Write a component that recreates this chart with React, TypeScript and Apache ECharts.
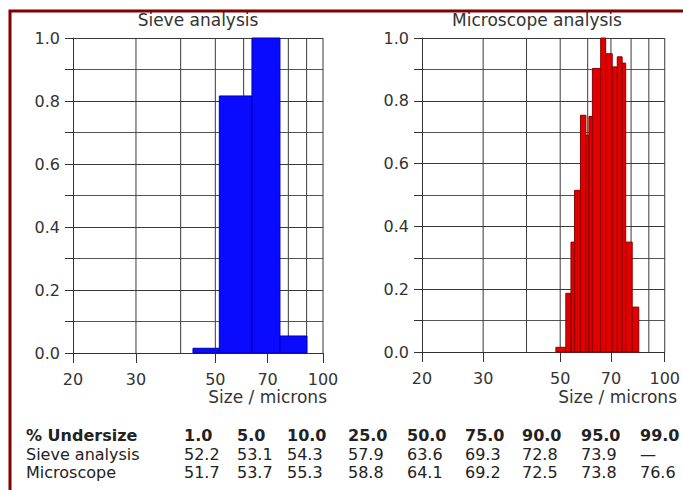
import React, { useEffect, useRef } from 'react';
import * as echarts from 'echarts';

// ---- data ----
const xTickValues = [20, 30, 50, 70, 100];
const xGridValues = [30, 40, 50, 60, 70, 80, 90, 100];

// Sieve analysis: bin edges (microns) and relative heights
const sieveEdges = [43.3, 51.3, 63.3, 75.8, 90.2];
const sieveHeights = [0.015, 0.816, 1.0, 0.054];

// Microscope analysis: bin edges (microns) and relative heights
const microEdges = [48.6, 51.9, 53.7, 55.0, 57.2, 59.3, 60.5, 61.9, 65.4, 67.6, 70.6, 73.0, 75.4, 77.2, 80.6, 84.2];
const microHeights = [0.015, 0.187, 0.35, 0.515, 0.754, 0.69, 0.75, 0.903, 1.0, 0.95, 0.908, 0.94, 0.92, 0.35, 0.143];

// Table
const undersizeHeader = '% Undersize';
const undersizePct = ['1.0', '5.0', '10.0', '25.0', '50.0', '75.0', '90.0', '95.0', '99.0'];
const sieveRowLabel = 'Sieve analysis';
const sieveSizes = ['52.2', '53.1', '54.3', '57.9', '63.6', '69.3', '72.8', '73.9', '—'];
const microRowLabel = 'Microscope';
const microSizes = ['51.7', '53.7', '55.3', '58.8', '64.1', '69.2', '72.5', '73.8', '76.6'];

const titles = ['Sieve analysis', 'Microscope analysis'];
const xAxisName = 'Size / microns';

const FONT = 'DejaVu Sans';

function bins(edges: number[], heights: number[]) {
  return heights.map((h, i) => [edges[i], edges[i + 1], h]);
}

const App = () => {
  const ref = useRef<HTMLDivElement>(null);
  useEffect(() => {
    const chart = echarts.init(ref.current!, null, { renderer: 'svg' });

    const gridLineSeries = (idx: number) => ({
      type: 'custom',
      xAxisIndex: idx,
      yAxisIndex: idx,
      silent: true,
      z: 1,
      data: xGridValues.map((v) => [v, 0]),
      encode: { x: 0, y: 1 },
      renderItem: (params: any, api: any) => {
        const v = api.value(0);
        const p0 = api.coord([v, 0]);
        const p1 = api.coord([v, 1]);
        return {
          type: 'line',
          shape: { x1: p0[0], y1: p0[1], x2: p1[0], y2: p1[1] },
          style: { stroke: '#3a3a3a', lineWidth: 1 },
        };
      },
    });

    const histSeries = (idx: number, data: number[][], fill: string, stroke: string) => ({
      type: 'custom',
      xAxisIndex: idx,
      yAxisIndex: idx,
      silent: true,
      z: 3,
      data,
      encode: { x: [0, 1], y: 2 },
      renderItem: (params: any, api: any) => {
        const x0 = api.value(0);
        const x1 = api.value(1);
        const h = api.value(2);
        const a = api.coord([x0, h]);
        const b = api.coord([x1, 0]);
        return {
          type: 'rect',
          shape: { x: a[0], y: a[1], width: b[0] - a[0], height: b[1] - a[1] },
          style: { fill, stroke, lineWidth: 1 },
        };
      },
    });

    const yAxis = (idx: number) => ({
      type: 'value',
      gridIndex: idx,
      min: 0,
      max: 1,
      interval: 0.2,
      axisLine: { show: true, lineStyle: { color: '#333', width: 1 } },
      axisTick: { show: true, length: 8, lineStyle: { color: '#333' } },
      minorTick: { show: true, splitNumber: 2, length: 8, lineStyle: { color: '#333' } },
      splitLine: { show: true, lineStyle: { color: '#3a3a3a', width: 1 } },
      minorSplitLine: { show: true, lineStyle: { color: '#555', width: 1 } },
      axisLabel: {
        formatter: (v: number) => v.toFixed(1),
        margin: 13,
        fontFamily: FONT,
        fontSize: 16,
        color: '#333',
      },
    });

    const xAxis = (idx: number) => ({
      type: 'log',
      logBase: 10,
      gridIndex: idx,
      min: 20,
      max: 100,
      axisLine: { show: true, lineStyle: { color: '#333', width: 1 } },
      axisTick: { show: true, length: 10, customValues: xTickValues, lineStyle: { color: '#333' } },
      splitLine: { show: false },
      axisLabel: {
        customValues: xTickValues,
        margin: 18,
        fontFamily: FONT,
        fontSize: 16,
        color: '#333',
        formatter: (v: number) => String(Math.round(v)),
      },
    });

    const colX = [184, 237, 287, 348, 407, 465, 522, 581, 640];
    const rowY = [435, 454, 472];
    const tableTexts: any[] = [];
    const addRow = (label: string, vals: string[], y: number, bold: boolean) => {
      const font = `${bold ? 'bold ' : ''}16px "${FONT}"`;
      tableTexts.push({
        type: 'text',
        x: 26,
        y,
        style: { text: label, fill: '#222', font, verticalAlign: 'middle', align: 'left' },
      });
      vals.forEach((v, i) => {
        tableTexts.push({
          type: 'text',
          x: colX[i],
          y,
          style: { text: v, fill: '#222', font, verticalAlign: 'middle', align: 'left' },
        });
      });
    };
    addRow(undersizeHeader, undersizePct, rowY[0], true);
    addRow(sieveRowLabel, sieveSizes, rowY[1], false);
    addRow(microRowLabel, microSizes, rowY[2], false);

    const option: any = {
      animation: false,
      backgroundColor: '#ffffff',
      grid: [
        { left: 73, top: 38, width: 250, height: 315 },
        { left: 422, top: 38, width: 244, height: 314 },
      ],
      xAxis: [xAxis(0), xAxis(1)],
      yAxis: [yAxis(0), yAxis(1)],
      series: [
        gridLineSeries(0),
        histSeries(0, bins(sieveEdges, sieveHeights), '#0a0aff', '#0000b0'),
        gridLineSeries(1),
        histSeries(1, bins(microEdges, microHeights), '#e00000', '#8b0000'),
      ],
      graphic: [
        {
          type: 'rect',
          z: 100,
          silent: true,
          shape: { x: 10, y: 11, width: 700, height: 500 },
          style: { fill: 'none', stroke: '#800000', lineWidth: 3 },
        },
        {
          type: 'text',
          x: 198,
          y: 20,
          style: { text: titles[0], fill: '#333', font: `17px "${FONT}"`, align: 'center', verticalAlign: 'middle' },
        },
        {
          type: 'text',
          x: 537,
          y: 20,
          style: { text: titles[1], fill: '#333', font: `17px "${FONT}"`, align: 'center', verticalAlign: 'middle' },
        },
        {
          type: 'text',
          x: 327,
          y: 397,
          style: { text: xAxisName, fill: '#333', font: `17px "${FONT}"`, align: 'right', verticalAlign: 'middle' },
        },
        {
          type: 'text',
          x: 677,
          y: 397,
          style: { text: xAxisName, fill: '#333', font: `17px "${FONT}"`, align: 'right', verticalAlign: 'middle' },
        },
        ...tableTexts,
      ],
    };
    chart.setOption(option);
    return () => chart.dispose();
  }, []);
  return (
    <div
      ref={ref}
      style={{ position: 'absolute', left: 0, top: 0, width: 683, height: 490, background: '#fff' }}
    />
  );
};

export default App;
